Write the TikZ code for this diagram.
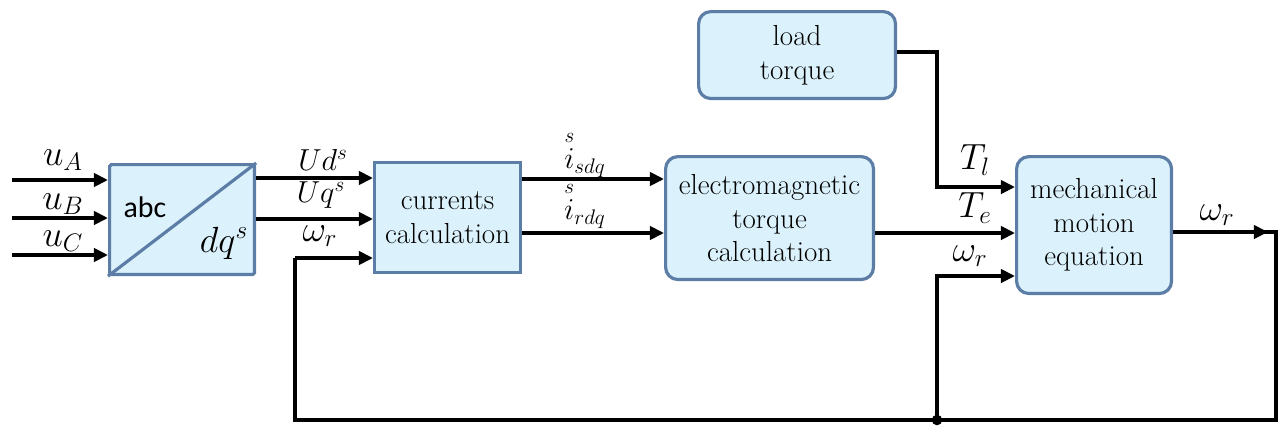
\documentclass[tikz,border=0pt]{standalone}
\usepackage{amsmath}
\usepackage{fontspec}
\newfontfamily\abcfont{Carlito}
\usetikzlibrary{arrows.meta}
\definecolor{boxfill}{HTML}{DBF1FB}
\definecolor{boxline}{HTML}{5B7DA6}
\tikzset{
  blk/.style={draw=boxline, fill=boxfill, line width=1.8pt, align=center,
    font=\fontsize{16.5}{19}\selectfont, inner sep=0pt},
  rblk/.style={blk, rounded corners=7pt},
  sig/.style={line width=2pt, -{Triangle[length=8pt,width=7.5pt]}},
  wire/.style={line width=2pt},
  lbl/.style={font=\fontsize{17}{20}\selectfont, inner sep=0pt},
  biglbl/.style={font=\fontsize{20.5}{24}\selectfont, inner sep=0pt},
}
\begin{document}
\begin{tikzpicture}[x=0.02cm, y=-0.02cm]
\useasboundingbox (0,0) rectangle (1280,427);

% blocks
\node[blk, rounded corners=1pt, anchor=north west,
  minimum width=2.9cm, minimum height=2.2cm] (abc) at (108,163) {};
\draw[boxline, line width=1.8pt] (abc.south west) -- (abc.north east);
\node[font=\abcfont\fontsize{17}{20}\selectfont] at (145,207) {abc};
\node[biglbl, font=\fontsize{22}{26}\selectfont] at (224,243) {$dq^s$};

\node[blk, anchor=north west, minimum width=2.92cm, minimum height=2.2cm] (cur) at (373,161)
  {currents\\calculation};
\node[rblk, anchor=north west, minimum width=4.16cm, minimum height=2.46cm] (em) at (664,155)
  {electromagnetic\\torque\\calculation};
\node[rblk, anchor=north west, minimum width=3.1cm, minimum height=2.74cm] (mech) at (1015,155)
  {mechanical\\motion\\equation};
\node[rblk, anchor=north west, minimum width=3.94cm, minimum height=1.74cm] (load) at (697,10)
  {load\\torque};

% input voltages
\coordinate (inA) at (12,180);
\coordinate (inB) at (12,218);
\coordinate (inC) at (12,255);
\draw[sig] (inA) -- (inA -| abc.west);
\draw[sig] (inB) -- (inB -| abc.west);
\draw[sig] (inC) -- (inC -| abc.west);
\node[biglbl] at (63,160) {$u_A$};
\node[biglbl] at (63,204) {$u_B$};
\node[biglbl] at (63,241) {$u_C$};

% transformed voltages
\draw[sig] (abc.east |- 0,178) -- (cur.west |- 0,178);
\draw[sig] (abc.east |- 0,219) -- (cur.west |- 0,219);
\node[lbl] at (323,160) {$Ud^s$};
\node[lbl] at (321,195) {$Uq^s$};
\node[biglbl] at (320,236) {$\omega_r$};

% currents
\draw[sig] (cur.east |- 0,179) -- (em.west |- 0,179);
\draw[sig] (cur.east |- 0,233) -- (em.west |- 0,233);
\node[lbl] at (585,154) {$\overset{s}{i}_{sdq}$};
\node[lbl] at (585,205) {$\overset{s}{i}_{rdq}$};

% torques
\draw[sig] (em.east |- 0,233) -- (mech.west |- 0,233);
\node[biglbl] at (975,208) {$T_e$};
\coordinate (lt1) at (937,52);
\draw[sig] (load.east |- lt1) -- (lt1) -- (937,187) -- (mech.west |- 0,187);
\node[biglbl] at (975,160) {$T_l$};

% speed feedback
\coordinate (out) at (1276,232);
\coordinate (br) at (1276,420);
\coordinate (jn) at (937,420);
\coordinate (bl) at (295,420);
\draw[sig] (mech.east |- out) -- (1268,232);
\draw[wire] (1262,232) -- (out) -- (br) -- (bl) -- (295,258);
\draw[sig] (295,258) -- (cur.west |- 0,258);
\draw[sig] (jn) -- (937,276) -- (mech.west |- 0,276);
\fill (jn) circle (3pt);
\node[biglbl] at (1217,215) {$\omega_r$};
\node[biglbl] at (970,256) {$\omega_r$};
\end{tikzpicture}
\end{document}
